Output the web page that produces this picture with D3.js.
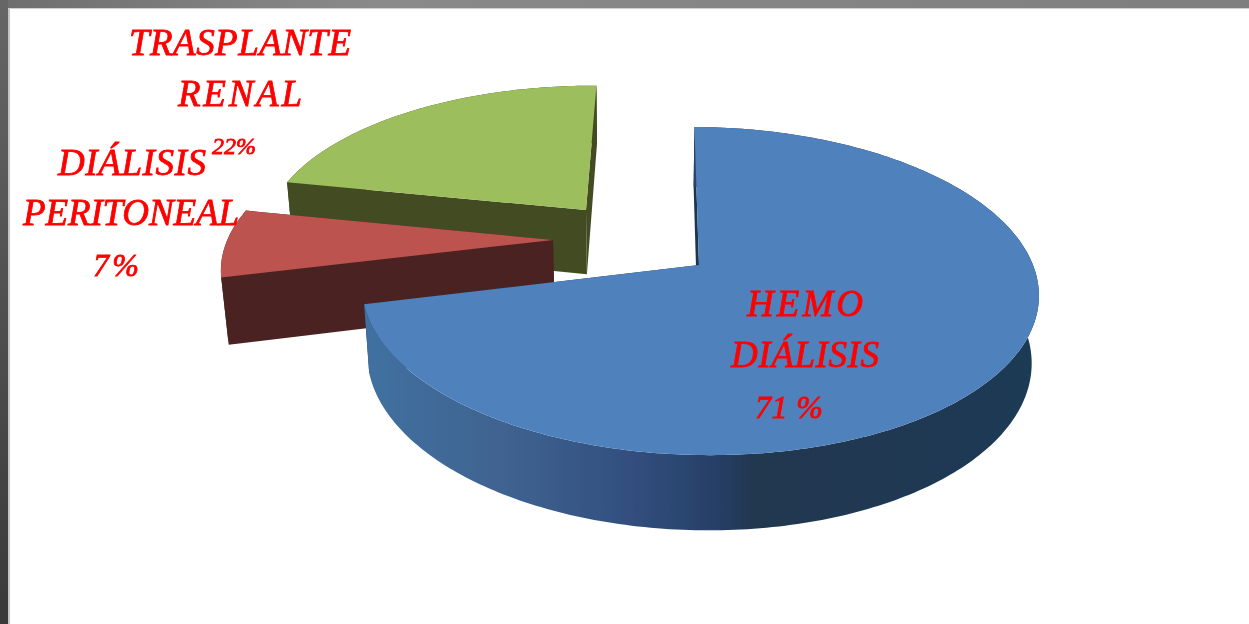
<!DOCTYPE html>
<html><head><meta charset="utf-8">
<script src="https://cdn.jsdelivr.net/npm/d3@7/dist/d3.min.js"></script>
<style>html,body{margin:0;padding:0;background:#fff;overflow:hidden}svg{display:block}</style>
</head><body><svg id="c" width="1249" height="624"></svg>
<script>
const categories = ["HEMO DIÁLISIS", "DIÁLISIS PERITONEAL", "TRASPLANTE RENAL"];
const values = [71, 7, 22];
const percentLabels = ["71 %", "7%", "22%"];
const topColors = ["#4f81bd", "#bc5350", "#9dbe5c"];
const wallColors = ["url(#blueWall)", "#4b2320", "#424b24"];

const W = 1249, H = 624;
const svg = d3.select("#c");

// perspective ground-plane projection
const R = 334, vx = 640, cy = 265, f = 0.479, p = 0.000475, depth = 68, qDepth = 0.018;
function project(X, Z, low) {
  const w = 1 + p * Z + (low ? qDepth : 0);
  return [vx + X / w, cy - (f * Z - (low ? depth : 0)) / w];
}
function unproject(sx, sy) {
  const d = cy - sy;
  const Z = d / (f - p * d);
  return [(sx - vx) * (1 + p * Z), Z];
}
const apexScreen = [[699, 265], [553, 240], [586, 210]];
const rotation = 0.7 * Math.PI / 180;

const defs = svg.append("defs");
const bg = defs.append("linearGradient").attr("id", "blueWall").attr("gradientUnits", "userSpaceOnUse")
  .attr("x1", 370).attr("x2", 1040).attr("y1", 0).attr("y2", 0);
[[0, "#41709f"], [0.2, "#3f6391"], [0.38, "#32507f"], [0.52, "#273f66"], [0.57, "#203750"], [1, "#1f3a55"]]
  .forEach(s => bg.append("stop").attr("offset", s[0]).attr("stop-color", s[1]));
const tg = defs.append("linearGradient").attr("id", "topBar").attr("x1", 0).attr("x2", 1);
tg.append("stop").attr("offset", 0).attr("stop-color", "#6e6e6e");
tg.append("stop").attr("offset", 0.3).attr("stop-color", "#8a8a8a");
tg.append("stop").attr("offset", 1).attr("stop-color", "#7e7e7e");
const lg = defs.append("linearGradient").attr("id", "leftBar").attr("x1", 0).attr("x2", 0).attr("y1", 0).attr("y2", 1);
lg.append("stop").attr("offset", 0).attr("stop-color", "#666");
lg.append("stop").attr("offset", 1).attr("stop-color", "#393939");
defs.append("filter").attr("id", "soft").attr("x", "-5%").attr("y", "-5%").attr("width", "110%").attr("height", "110%")
  .append("feGaussianBlur").attr("stdDeviation", 0.45);

// frame
svg.append("rect").attr("width", W).attr("height", H).attr("fill", "#fff");
svg.append("rect").attr("x", 8).attr("y", 8).attr("width", 2).attr("height", H - 8).attr("fill", "#c4c4c4");
svg.append("rect").attr("x", 8).attr("y", 7).attr("width", W - 8).attr("height", 2).attr("fill", "#cfcfcf");
svg.append("rect").attr("width", W).attr("height", 8).attr("fill", "url(#topBar)");
svg.append("rect").attr("width", 8).attr("height", H).attr("fill", "url(#leftBar)");

const pie = d3.pie().sort(null).startAngle(rotation).endAngle(2 * Math.PI + rotation);
const arcs = pie(values);
const line = d3.line();

function slicePaths(d, i) {
  const [cX, cZ] = unproject(...apexScreen[i]);
  const n = Math.max(8, Math.ceil((d.endAngle - d.startAngle) * 60));
  const angles = d3.range(n + 1).map(k => d.startAngle + (d.endAngle - d.startAngle) * k / n);
  const pt = (a, low) => project(cX + R * Math.sin(a), cZ + R * Math.cos(a), low);
  const apexT = project(cX, cZ, false), apexB = project(cX, cZ, true);
  const topArc = angles.map(a => pt(a, false));
  const lowArc = angles.map(a => pt(a, true));
  return {
    top: line([apexT, ...topArc]) + "Z",
    outer: line([...topArc, ...lowArc.slice().reverse()]) + "Z",
    wallStart: line([apexT, topArc[0], lowArc[0], apexB]) + "Z",
    wallEnd: line([apexT, topArc[n], lowArc[n], apexB]) + "Z"
  };
}

// back-to-front painting order: green, red, blue
const order = [2, 1, 0];
const g = svg.append("g").attr("filter", "url(#soft)");
order.forEach(i => {
  const s = slicePaths(arcs[i], i);
  const wall = i === 0 ? "#1d3550" : wallColors[i];
  g.append("path").attr("d", s.wallEnd).attr("fill", wall);
  g.append("path").attr("d", s.wallStart).attr("fill", wall);
  g.append("path").attr("d", s.outer).attr("fill", wallColors[i]);
  g.append("path").attr("d", s.top).attr("fill", topColors[i]);
});

// labels
const labelLines = [
  { t: "TRASPLANTE", cx: 240, y: 55, w: 222, fs: 37 },
  { t: "RENAL", cx: 240, y: 106, w: 124, fs: 37 },
  { t: percentLabels[2], cx: 234, y: 154, w: 44, fs: 24 },
  { t: "DIÁLISIS", cx: 132, y: 175, w: 148, fs: 37 },
  { t: "PERITONEAL", cx: 131, y: 225, w: 216, fs: 37 },
  { t: percentLabels[1], cx: 116, y: 276, w: 46, fs: 32 },
  { t: "HEMO", cx: 805, y: 316, w: 116, fs: 37 },
  { t: "DIÁLISIS", cx: 805, y: 367, w: 148, fs: 37 },
  { t: percentLabels[0], cx: 789, y: 418, w: 68, fs: 32 }
];
svg.append("g").attr("filter", "url(#soft)").selectAll("text").data(labelLines).join("text")
  .attr("x", d => d.cx).attr("y", d => d.y)
  .attr("text-anchor", "middle")
  .attr("textLength", d => d.w).attr("lengthAdjust", "spacing")
  .attr("font-family", "'Liberation Serif', serif")
  .attr("font-style", "italic")
  .attr("font-size", d => d.fs)
  .attr("fill", "#ff0000")
  .attr("stroke", "#ff0000").attr("stroke-width", 0.8)
  .text(d => d.t);
</script></body></html>
